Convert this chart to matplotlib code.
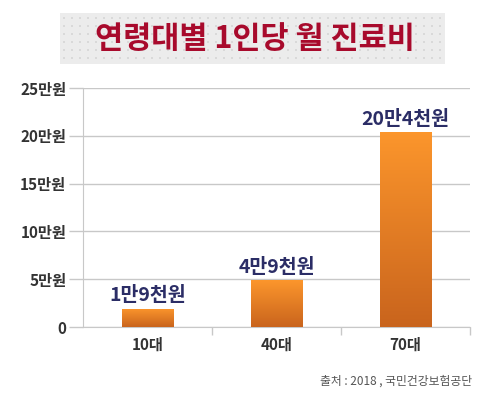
import matplotlib.pyplot as plt
import numpy as np
from matplotlib.colors import LinearSegmentedColormap
from matplotlib.patches import Rectangle

plt.rcParams['font.family'] = ['Noto Sans CJK KR', 'DejaVu Sans']

categories = ['10대', '40대', '70대']
values = [1.9, 4.9, 20.4]  # 만원
value_labels = ['1만9천원', '4만9천원', '20만4천원']
yticks = [0, 5, 10, 15, 20, 25]
ytick_labels = ['0', '5만원', '10만원', '15만원', '20만원', '25만원']

W, H = 489, 398
fig = plt.figure(figsize=(W / 100, H / 100), dpi=100)
ax = fig.add_axes([83 / W, 1 - 327 / H, 387 / W, 239 / H])

x = np.arange(len(categories))
bars = ax.bar(x, values, width=0.4, color='none', zorder=3)

# 세로 그라데이션
cmap = LinearSegmentedColormap.from_list('og', ['#c9641d', '#fc962c'])
grad = np.linspace(0, 1, 256).reshape(-1, 1)
for b in bars:
    bx, by = b.get_x(), b.get_y()
    bw, bh = b.get_width(), b.get_height()
    im = ax.imshow(grad, cmap=cmap, origin='lower', aspect='auto',
                   extent=[bx, bx + bw, by, by + bh], zorder=3)
    im.set_clip_path(b)

for xi, v, lab in zip(x, values, value_labels):
    ax.text(xi, v + 0.35, lab, ha='center', va='bottom', fontsize=14,
            fontweight='bold', color='#2b2d66', zorder=4)

ax.set_xlim(-0.5, 2.5)
ax.set_ylim(0, 25)
ax.set_yticks(yticks)
ax.set_yticklabels(ytick_labels, fontsize=11, fontweight='bold', color='#333333')
ax.yaxis.grid(True, color='#c8c8c8', linewidth=1)
ax.set_axisbelow(True)
ax.tick_params(axis='y', length=10, width=1, color='#c8c8c8', pad=2)

ax.set_xticks(x)
ax.set_xticklabels(categories, fontsize=11, fontweight='bold', color='#333333')
ax.set_xticks([0.5, 1.5, 2.5], minor=True)
ax.tick_params(axis='x', which='major', length=0, pad=7)
ax.tick_params(axis='x', which='minor', length=6, width=1, color='#c8c8c8')

for s in ['top', 'right']:
    ax.spines[s].set_visible(False)
ax.spines['left'].set_color('#c8c8c8')
ax.spines['bottom'].set_color('#c8c8c8')

# 제목 상자 (점무늬 배경)
fig.patches.append(Rectangle((60 / W, 1 - 64 / H), 385 / W, 51 / H,
                             transform=fig.transFigure, facecolor='#ececec',
                             edgecolor='none', zorder=0))
gx, gy = np.meshgrid(np.arange(64, 443, 8), np.arange(18, 62, 8))
fig.add_artist(plt.Line2D(gx.ravel() / W, 1 - gy.ravel() / H, linestyle='none',
                          marker='s', markersize=1.6, markeredgewidth=0,
                          markerfacecolor='#d9d9d9', transform=fig.transFigure,
                          zorder=0.5))
fig.text(255 / W, 1 - 39 / H, '연령대별 1인당 월 진료비', ha='center',
         va='center', fontsize=22, fontweight='bold', color='#a80a2c', zorder=2)

fig.text(472 / W, 1 - 381 / H, '출처 : 2018 , 국민건강보험공단', ha='right',
         va='center', fontsize=8.5, color='#555555')

fig.savefig('out.png', dpi=100)
